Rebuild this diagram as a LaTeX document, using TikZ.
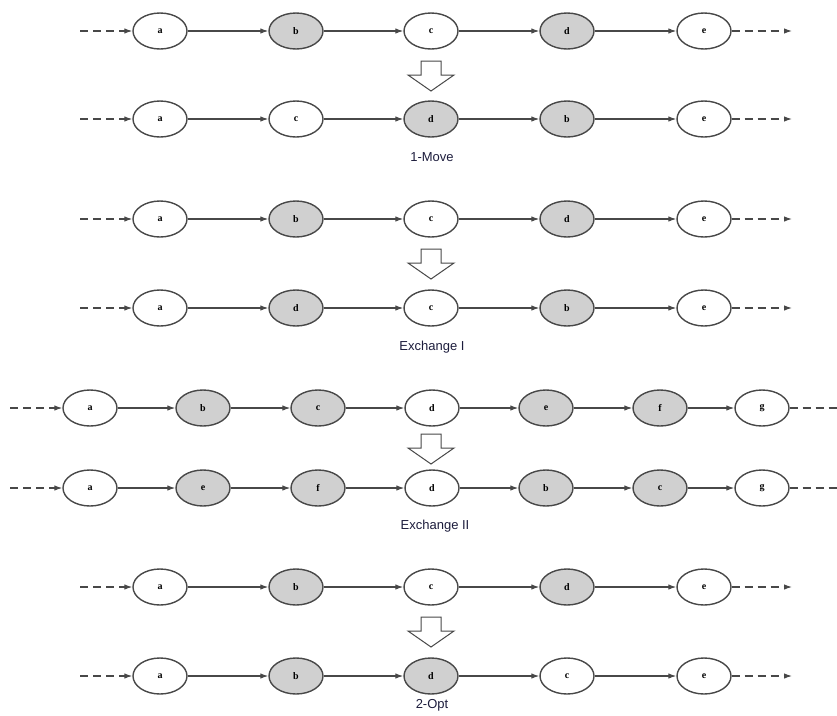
\documentclass[tikz,border=0pt]{standalone}
\usepackage{fontspec}
\setmainfont{Liberation Serif}
\newfontfamily\capfont{Liberation Sans}
\usetikzlibrary{arrows.meta,shapes.geometric}
\definecolor{edgegray}{HTML}{484848}
\definecolor{nodefill}{HTML}{D0D0D0}
\definecolor{capblue}{HTML}{1C1C3C}

\begin{document}
\begin{tikzpicture}
[x=1pt,y=-1pt,
 ar/.style={-{Latex[length=8pt,width=5.5pt]},edgegray,line width=1.1pt},
 dl/.style={edgegray,line width=1.1pt,dash pattern=on 8pt off 5pt},
 da/.style={ar,dash pattern=on 8pt off 5pt},
 no/.style={draw=edgegray,line width=1.4pt,ellipse,fill=white,minimum width=54pt,minimum height=36pt,inner sep=0pt,font=\bfseries\fontsize{10}{10}\selectfont},
 sh/.style={no,fill=nodefill},
 caption/.style={font=\capfont\fontsize{13}{13}\selectfont,text=capblue},
 swapdown/.pic={\draw [edgegray,line width=1pt,fill=white] (-10,-15) -- (10,-15) -- (10,-1) -- (23,-1) -- (0,15) -- (-23,-1) -- (-10,-1) -- cycle;}]
\useasboundingbox (0,0) rectangle (837,715);

% 1-Move
\node [no] at (160,31) (a1) {a};
\node [sh] at (296,31) (b1) {b};
\node [no] at (431,31) (c1) {c};
\node [sh] at (567,31) (d1) {d};
\node [no] at (704,31) (e1) {e};
\node [no] at (160,119) (a2) {a};
\node [no] at (296,119) (c2) {c};
\node [sh] at (431,119) (d2) {d};
\node [sh] at (567,119) (b2) {b};
\node [no] at (704,119) (e2) {e};
\pic at (431,76) {swapdown};
\node [caption] at (432,157) (t1) {1-Move};

% Exchange I
\node [no] at (160,219) (a3) {a};
\node [sh] at (296,219) (b3) {b};
\node [no] at (431,219) (c3) {c};
\node [sh] at (567,219) (d3) {d};
\node [no] at (704,219) (e3) {e};
\node [no] at (160,308) (a4) {a};
\node [sh] at (296,308) (d4) {d};
\node [no] at (431,308) (c4) {c};
\node [sh] at (567,308) (b4) {b};
\node [no] at (704,308) (e4) {e};
\pic at (431,264) {swapdown};
\node [caption] at (432,347) (t2) {Exchange I};

% Exchange II
\node [no] at (90,408) (a5) {a};
\node [sh] at (203,408) (b5) {b};
\node [sh] at (318,408) (c5) {c};
\node [no] at (432,408) (d5) {d};
\node [sh] at (546,408) (e5) {e};
\node [sh] at (660,408) (f5) {f};
\node [no] at (762,408) (g5) {g};
\node [no] at (90,488) (a6) {a};
\node [sh] at (203,488) (e6) {e};
\node [sh] at (318,488) (f6) {f};
\node [no] at (432,488) (d6) {d};
\node [sh] at (546,488) (b6) {b};
\node [sh] at (660,488) (c6) {c};
\node [no] at (762,488) (g6) {g};
\pic at (431,449) {swapdown};
\node [caption] at (435,526) (t3) {Exchange II};

% 2-Opt
\node [no] at (160,587) (a7) {a};
\node [sh] at (296,587) (b7) {b};
\node [no] at (431,587) (c7) {c};
\node [sh] at (567,587) (d7) {d};
\node [no] at (704,587) (e7) {e};
\node [no] at (160,676) (a8) {a};
\node [sh] at (296,676) (b8) {b};
\node [sh] at (431,676) (d8) {d};
\node [no] at (567,676) (c8) {c};
\node [no] at (704,676) (e8) {e};
\pic at (431,632) {swapdown};
\node [caption] at (432,705) (t4) {2-Opt};

\foreach \u/\v in {a1/b1,b1/c1,c1/d1,d1/e1, a2/c2,c2/d2,d2/b2,b2/e2,
  a3/b3,b3/c3,c3/d3,d3/e3, a4/d4,d4/c4,c4/b4,b4/e4,
  a5/b5,b5/c5,c5/d5,d5/e5,e5/f5,f5/g5, a6/e6,e6/f6,f6/d6,d6/b6,b6/c6,c6/g6,
  a7/b7,b7/c7,c7/d7,d7/e7, a8/b8,b8/d8,d8/c8,c8/e8}
  \draw [ar] (\u) -- (\v);

% open ends
\foreach \r/\y in {1/31,2/119,3/219,4/308,7/587,8/676} {
  \coordinate (in\r) at (80,\y);
  \coordinate (out\r) at (792,\y);
  \draw [da] (in\r) -- (a\r);
  \draw [da] (e\r) -- (out\r);
}
\foreach \r/\y in {5/408,6/488} {
  \coordinate (in\r) at (10,\y);
  \coordinate (out\r) at (837,\y);
  \draw [da] (in\r) -- (a\r);
  \draw [dl] (g\r) -- (out\r);
}
\end{tikzpicture}
\end{document}
